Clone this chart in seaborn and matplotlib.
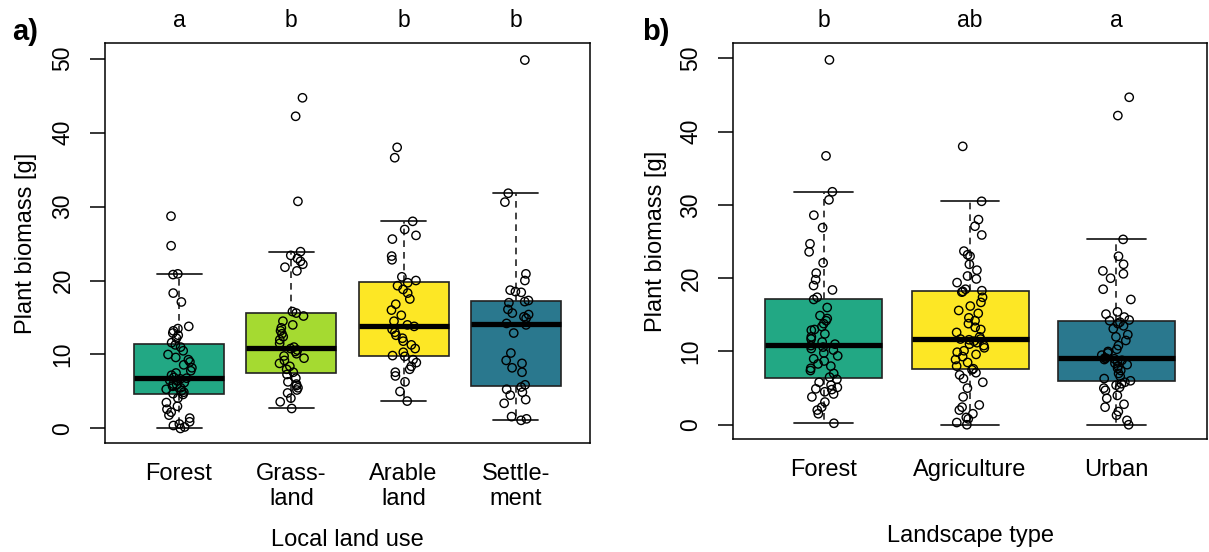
import numpy as np
import pandas as pd
import matplotlib
matplotlib.use("Agg")
import matplotlib.pyplot as plt
import seaborn as sns

# ---- panel a: local land use ----
local_names = ["Forest", "Grass-\nland", "Arable\nland", "Settle-\nment"]
local_letters = ["a", "b", "b", "b"]

forest_local = [0.0, 0.2, 0.4, 0.6, 0.9, 1.4, 1.8, 2.2, 2.6, 3.0, 3.5, 4.1, 4.6,
                4.7, 4.9, 5.1, 5.3, 5.5, 5.7, 5.9, 6.0, 6.2, 6.4, 6.5, 6.7, 6.8,
                6.9, 7.2, 7.5, 7.8, 8.2, 8.6, 9.0, 9.3, 9.6, 10.0, 10.5, 11.0, 11.3,
                11.6, 12.2, 12.6, 12.9, 13.2, 13.5, 13.8, 17.1, 18.3, 20.8, 20.9, 24.7, 28.7]
grassland_local = [2.7, 3.6, 4.1, 4.8, 5.2, 5.5, 5.8, 6.0, 6.3, 6.8, 7.3,
                   7.6, 8.0, 8.4, 8.8, 9.2, 9.5, 9.8, 10.1, 10.4, 10.6, 10.8,
                   11.0, 11.5, 12.0, 12.4, 12.8, 13.2, 13.6, 14.0, 14.5, 15.2, 15.6,
                   15.8, 21.3, 21.8, 22.2, 22.6, 23.0, 23.4, 23.9, 30.7, 42.2, 44.7]
arable_local = [3.7, 5.0, 6.3, 7.1, 7.6, 8.0, 8.4, 8.9, 9.3, 9.75,
                9.85, 10.3, 10.8, 11.3, 11.8, 12.2, 12.6, 13.0, 13.4, 13.8,
                14.0, 14.5, 15.3, 16.0, 16.8, 17.5, 18.3, 18.8, 19.3, 19.7,
                20.0, 20.5, 22.8, 23.3, 25.6, 26.1, 26.9, 28.0, 36.6, 38.0]
settlement_local = [1.1, 1.3, 1.6, 3.4, 3.9, 4.5, 4.9, 5.3, 5.6,
                    5.9, 7.6, 8.2, 8.8, 9.2, 10.2, 12.9, 14.0,
                    14.2, 14.9, 15.1, 15.4, 15.6, 16.1, 17.0, 17.15,
                    17.3, 18.4, 18.5, 18.7, 20.0, 20.9, 30.6, 31.8, 49.8]

# ---- panel b: landscape type ----
landscape_names = ["Forest", "Agriculture", "Urban"]
landscape_letters = ["b", "ab", "a"]

forest_landscape = [0.2, 1.5, 2.0, 2.4, 3.1, 3.8, 4.2, 4.5, 4.8, 4.9, 5.1, 5.4, 5.8, 6.2,
                    6.5, 7.0, 7.4, 7.7, 8.0, 8.3, 8.7, 9.0, 9.4, 9.8, 10.2, 10.4, 10.6, 10.8,
                    11.0, 11.3, 11.7, 12.0, 12.4, 12.9, 13.0, 13.4, 13.8, 14.2, 14.5, 14.9, 16.0, 17.1,
                    17.4, 18.4, 19.0, 19.8, 20.7, 22.1, 23.6, 24.7, 26.9, 28.6, 30.7, 31.8, 36.7, 49.8]
agriculture_landscape = [0.0, 0.3, 0.8, 1.0, 1.5, 2.0, 2.4, 2.7, 3.8, 5.0, 5.8, 6.3, 6.8, 7.1, 7.5,
                         7.65, 8.0, 8.5, 8.9, 9.3, 9.6, 9.9, 10.1, 10.5, 10.8, 11.0, 11.2, 11.4, 11.6, 11.7,
                         11.7, 12.0, 12.6, 13.0, 13.3, 13.8, 14.2, 14.6, 15.2, 15.6, 16.2, 16.7, 17.4, 18.1, 18.2,
                         18.3, 18.5, 19.4, 19.9, 20.3, 21.1, 21.9, 23.0, 23.2, 23.7, 25.9, 27.1, 28.0, 30.5, 38.0]
urban_landscape = [0.0, 0.6, 1.3, 1.8, 2.4, 2.8, 3.6, 4.0, 4.7, 5.0, 5.1, 5.4, 5.6, 5.8,
                   6.0, 6.3, 6.6, 7.0, 7.4, 7.7, 8.0, 8.2, 8.4, 8.6, 8.8, 8.9, 9.0, 9.1,
                   9.1, 9.5, 9.8, 10.0, 10.3, 10.8, 11.5, 12.0, 12.3, 13.1, 13.5, 13.8, 14.0, 14.2,
                   14.3, 14.7, 15.1, 15.4, 17.1, 18.5, 20.0, 20.6, 21.0, 21.9, 23.0, 25.3, 42.2, 44.7]

local_colors = ["#22A884", "#A5DA31", "#FDE725", "#2A788E"]
landscape_colors = ["#22A884", "#FDE725", "#2A788E"]


def long_table(names, groups):
    rows = []
    for name, vals in zip(names, groups):
        rows += [(name, v) for v in vals]
    return pd.DataFrame(rows, columns=["group", "biomass"])


df_local = long_table(local_names, [forest_local, grassland_local, arable_local, settlement_local])
df_land = long_table(landscape_names, [forest_landscape, agriculture_landscape, urban_landscape])

sns.set_style("ticks")
plt.rcParams["font.family"] = ["Liberation Sans", "DejaVu Sans"]
plt.rcParams["axes.linewidth"] = 1.1
for key in ["text.color", "axes.labelcolor", "xtick.color", "ytick.color", "axes.edgecolor"]:
    plt.rcParams[key] = "black"
np.random.seed(3)

fig = plt.figure(figsize=(12.09, 5.52), dpi=100)
ax_a = fig.add_axes([0.0868, 0.197, 0.4012, 0.725])
ax_b = fig.add_axes([0.6063, 0.204, 0.3921, 0.718])


def draw_panel(ax, df, names, colors, letters, xlabel, jitter):
    sns.boxplot(
        data=df, x="group", y="biomass", order=names, hue="group", hue_order=names,
        palette=colors, legend=False, width=0.8, whis=1.5, showfliers=False,
        linecolor="#222222", linewidth=1.2, saturation=1, ax=ax, capwidths=0.4,
        whiskerprops={"linestyle": (0, (4, 3)), "color": "#222222"},
        medianprops={"linewidth": 3.8, "color": "black"},
        capprops={"color": "#222222", "linewidth": 1.3},
    )
    sns.stripplot(
        data=df, x="group", y="biomass", order=names, jitter=jitter,
        color="black", facecolors="none", edgecolor="black", linewidth=1.0,
        size=6, ax=ax, zorder=5,
    )
    n = len(names)
    ax.set_xlim(-0.5 - 0.04 * n, n - 0.5 + 0.04 * n)
    ax.set_ylim(-2.0, 52.1)
    ax.set_yticks([0, 10, 20, 30, 40, 50])
    ax.tick_params(axis="y", labelrotation=90, length=11, width=1.1, labelsize=16.5, pad=11)
    for lab in ax.get_yticklabels():
        lab.set_va("center")
    ax.tick_params(axis="x", length=0, labelsize=17, pad=14)
    for s in ax.spines.values():
        s.set_visible(True)
        s.set_color("black")
    ax.set_xlabel(xlabel, fontsize=17)
    ax.set_ylabel("Plant biomass [g]", fontsize=17)
    ax.xaxis.set_label_coords(0.5, -0.215)
    ax.yaxis.set_label_coords(-0.14, 0.5)
    for i, let in enumerate(letters):
        ax.text(i, 1.057, let, transform=ax.get_xaxis_transform(),
                ha="center", va="center", fontsize=16.5)


draw_panel(ax_a, df_local, local_names, local_colors, local_letters, "Local land use", 0.12)
draw_panel(ax_b, df_land, landscape_names, landscape_colors, landscape_letters, "Landscape type", 0.1)

fig.text(25 / 1209, 1 - 32 / 552, "a)", fontsize=21, fontweight="bold", ha="center", va="center")
fig.text(656 / 1209, 1 - 32 / 552, "b)", fontsize=21, fontweight="bold", ha="center", va="center")

fig.savefig("out.png", dpi=100)
